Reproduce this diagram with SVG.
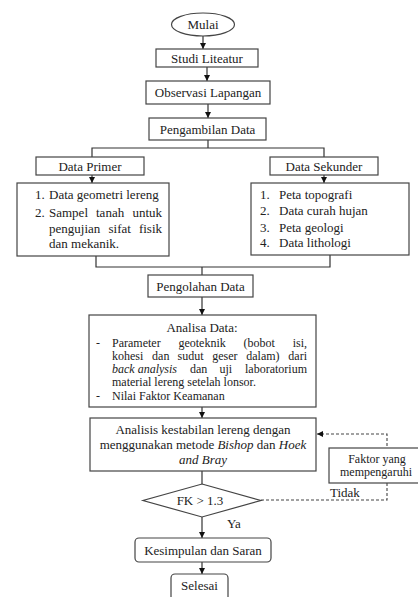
<svg xmlns="http://www.w3.org/2000/svg" width="418" height="597" viewBox="0 0 418 597">
<defs>
<style>
.b{fill:#fff;stroke:#444;stroke-width:1.2}
.c{fill:none;stroke:#333;stroke-width:1.2}
.d{fill:none;stroke:#444;stroke-width:1.1;stroke-dasharray:3 2}
.t text{font-size:13px;fill:#222}
.t .s{font-size:12px}
.m{text-anchor:middle}
.e{text-anchor:end}
.i{font-style:italic}
</style>
<marker id="ar" viewBox="0 0 10 10" refX="10" refY="5" markerWidth="6" markerHeight="6" markerUnits="userSpaceOnUse" orient="auto"><path d="M0,0L10,5L0,10z" fill="#111"/></marker>
</defs>
<rect width="418" height="597" fill="#fff"/>
<g class="t" font-family="'Liberation Serif', 'Times New Roman', Tinos, 'DejaVu Serif', serif">
<g id="connectors">
<line class="c" x1="203" y1="36" x2="203" y2="49" marker-end="url(#ar)"/>
<line class="c" x1="207" y1="67" x2="207" y2="81" marker-end="url(#ar)"/>
<line class="c" x1="208" y1="104" x2="208" y2="118" marker-end="url(#ar)"/>
<polyline class="c" points="208,140 208,148"/>
<polyline class="c" points="92,157 92,148 324,148 324,157"/>
<line class="c" x1="92" y1="175" x2="92" y2="183" marker-end="url(#ar)"/>
<line class="c" x1="324" y1="175" x2="324" y2="183" marker-end="url(#ar)"/>
<polyline class="c" points="96,256 96,267 330,267 330,255"/>
<line class="c" x1="202" y1="267" x2="202" y2="275"/>
<line class="c" x1="202" y1="297" x2="202" y2="315" marker-end="url(#ar)"/>
<line class="c" x1="202" y1="407" x2="202" y2="418" marker-end="url(#ar)"/>
<line class="c" x1="202" y1="471" x2="202" y2="484"/>
<line class="c" x1="202" y1="517" x2="202" y2="538" marker-end="url(#ar)"/>
<line class="c" x1="202" y1="562" x2="202" y2="574" marker-end="url(#ar)"/>
<polyline class="d" points="261,500 387,500 387,434 317,434" marker-end="url(#ar)"/>
<text x="330" y="497">Tidak</text>
<text x="227" y="528">Ya</text>
</g>
<g id="mulai"><ellipse class="b" cx="203" cy="24.5" rx="31.5" ry="11.5"/><text class="m" x="203" y="29">Mulai</text></g>
<g id="studi"><rect class="b" x="156" y="49" width="102" height="18"/><text class="m" x="207" y="62.5">Studi Liteatur</text></g>
<g id="observasi"><rect class="b" x="146" y="81" width="124" height="23"/><text class="m" x="208" y="97">Observasi Lapangan</text></g>
<g id="pengambilan"><rect class="b" x="149" y="118" width="117" height="22"/><text class="m" x="207.5" y="133.5">Pengambilan Data</text></g>
<g id="primer"><rect class="b" x="36" y="157" width="108" height="18"/><text class="m" x="90" y="170.5">Data Primer</text></g>
<g id="sekunder"><rect class="b" x="270" y="157" width="108" height="18"/><text class="m" x="324" y="170.5">Data Sekunder</text></g>
<g id="list-primer"><rect class="b" x="17" y="183" width="152" height="73"/>
<text x="35" y="199">1.</text><text x="49" y="199">Data geometri lereng</text>
<text x="35" y="217">2.</text><text x="49" y="217">Sampel</text><text x="96" y="217">tanah</text><text class="e" x="162" y="217">untuk</text>
<text x="49" y="233">pengujian</text><text x="108.5" y="233">sifat</text><text class="e" x="162" y="233">fisik</text>
<text x="49" y="248">dan mekanik.</text></g>
<g id="list-sekunder"><rect class="b" x="251" y="183" width="158" height="72"/>
<text x="260" y="199">1.</text><text x="279" y="199">Peta topografi</text>
<text x="260" y="215">2.</text><text x="279" y="215">Data curah hujan</text>
<text x="260" y="232">3.</text><text x="279" y="232">Peta geologi</text>
<text x="260" y="247">4.</text><text x="279" y="247">Data lithologi</text></g>
<g id="pengolahan"><rect class="b" x="148" y="275" width="105" height="22"/><text class="m" x="200.5" y="290.5">Pengolahan Data</text></g>
<g id="analisa"><rect class="b" x="89" y="315" width="227" height="92"/>
<text class="m" x="202" y="332">Analisa Data:</text>
<text class="s" x="96" y="347">-</text><text class="s" x="112" y="347">Parameter</text><text class="s" x="178.4" y="347">geoteknik</text><text class="s" x="243.5" y="347">(bobot</text><text class="s e" x="307" y="347">isi,</text>
<text class="s" x="112" y="360">kohesi</text><text class="s" x="152.1" y="360">dan</text><text class="s" x="177.5" y="360">sudut</text><text class="s" x="212.2" y="360">geser</text><text class="s" x="246.3" y="360">dalam)</text><text class="s e" x="307" y="360">dari</text>
<text class="s i" x="112" y="373">back analysis</text><text class="s" x="189.9" y="373">dan</text><text class="s" x="219.5" y="373">uji</text><text class="s e" x="307" y="373">laboratorium</text>
<text class="s" x="112" y="386">material lereng setelah lonsor.</text>
<text class="s" x="96" y="400">-</text><text class="s" x="112" y="400">Nilai Faktor Keamanan</text></g>
<g id="analisis"><rect class="b" x="90" y="418" width="226" height="53"/>
<text class="m" x="203" y="434">Analisis kestabilan lereng dengan</text>
<text class="m" x="203" y="449">menggunakan metode <tspan class="i">Bishop</tspan> dan <tspan class="i">Hoek</tspan></text>
<text class="m i" x="203" y="464">and Bray</text></g>
<g id="faktor"><rect class="b" x="329" y="448" width="90" height="35"/>
<text class="m s" x="377" y="463">Faktor yang</text><text class="m s" x="376" y="476">mempengaruhi</text></g>
<g id="fk"><polygon class="b" points="202,484 261,500.5 202,517 143,500.5"/><text class="m" x="200" y="505">FK &gt; 1.3</text></g>
<g id="kesimpulan"><rect class="b" x="135" y="538" width="136" height="24" rx="4"/><text class="m" x="203" y="554.5">Kesimpulan dan Saran</text></g>
<g id="selesai"><rect class="b" x="171" y="574" width="57" height="30" rx="4"/><text class="m" x="199.5" y="590">Selesai</text></g>
</g>
</svg>
